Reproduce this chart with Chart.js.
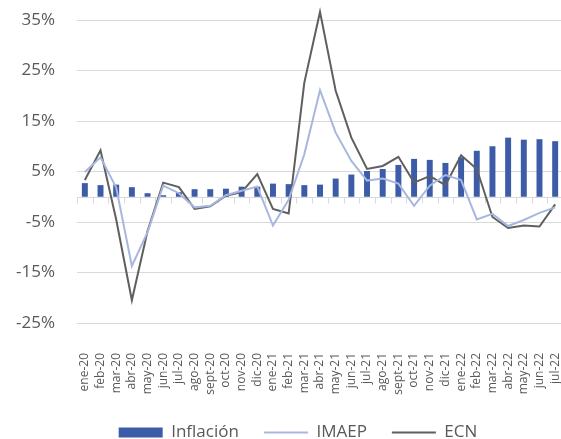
<!DOCTYPE html>
<html>
<head>
<meta charset="utf-8">
<script src="https://cdn.jsdelivr.net/npm/chart.js@4.4.1/dist/chart.umd.min.js"></script>
<style>
  html, body { margin: 0; padding: 0; background: #fff; overflow: hidden; }
  #wrap { width: 596px; height: 451px; }
</style>
</head>
<body>
<div id="wrap"><canvas id="grafico" width="596" height="451"></canvas></div>
<script>
var meses = ["ene-20", "feb-20", "mar-20", "abr-20", "may-20", "jun-20", "jul-20", "ago-20", "sept-20", "oct-20", "nov-20", "dic-20",
  "ene-21", "feb-21", "mar-21", "abr-21", "may-21", "jun-21", "jul-21", "ago-21", "sept-21", "oct-21", "nov-21", "dic-21",
  "ene-22", "feb-22", "mar-22", "abr-22", "may-22", "jun-22", "jul-22"];

var inflacion = [2.7, 2.3, 2.4, 1.9, 0.7, 0.3, 0.9, 1.5, 1.5, 1.6, 2.0, 2.0,
  2.6, 2.5, 2.3, 2.4, 3.6, 4.4, 5.1, 5.5, 6.3, 7.5, 7.3, 6.7,
  7.8, 9.1, 10.0, 11.7, 11.3, 11.4, 11.0];

var imaep = [4.9, 7.8, 1.8, -13.7, -7.0, 2.2, 0.7, -2.1, -1.8, 0.3, 1.2, 2.0,
  -5.7, -0.6, 8.4, 21.1, 12.7, 7.1, 3.2, 3.6, 2.6, -1.8, 2.2, 4.3,
  3.3, -4.5, -3.4, -5.8, -4.6, -3.2, -2.1];

var ecn = [3.3, 9.2, -4.5, -20.5, -6.8, 2.8, 1.9, -2.4, -1.9, 0.2, 0.9, 4.5,
  -2.4, -3.3, 22.6, 36.6, 21.0, 11.7, 5.5, 6.1, 7.9, 2.8, 4.1, 2.3,
  8.2, 5.5, -4.0, -6.2, -5.7, -5.9, -1.5];

var ticksY = [-25, -15, -5, 5, 15, 25, 35];

var colorTexto = "#595959";
var colorRejilla = "#d9d9d9";

// eje en cero con sus marcas entre categorias
var ejeCero = {
  id: "ejeCero",
  beforeDatasetsDraw: function (chart) {
    var ctx = chart.ctx;
    var x = chart.scales.x;
    var y0 = Math.round(chart.scales.y.getPixelForValue(0)) + 0.5;
    var paso = x.getPixelForValue(1) - x.getPixelForValue(0);
    ctx.save();
    ctx.strokeStyle = colorRejilla;
    ctx.lineWidth = 1;
    ctx.beginPath();
    ctx.moveTo(chart.chartArea.left, y0);
    ctx.lineTo(chart.chartArea.right, y0);
    for (var i = 0; i <= meses.length; i++) {
      var px = Math.round(x.getPixelForValue(0) - paso / 2 + i * paso) + 0.5;
      ctx.moveTo(px, y0);
      ctx.lineTo(px, y0 + 6);
    }
    ctx.stroke();
    ctx.restore();
  }
};

var ctx = document.getElementById("grafico").getContext("2d");
new Chart(ctx, {
  data: {
    labels: meses,
    datasets: [
      {
        type: "bar",
        label: "Inflación",
        data: inflacion,
        backgroundColor: "#3d5ca8",
        borderWidth: 0,
        barPercentage: 0.38,
        categoryPercentage: 1,
        pointStyle: "rect",
        order: 1
      },
      {
        type: "line",
        label: "IMAEP",
        data: imaep,
        borderColor: "#a7b7e0",
        backgroundColor: "#a7b7e0",
        borderWidth: 2,
        pointRadius: 0,
        tension: 0,
        clip: false,
        pointStyle: "line",
        order: 0
      },
      {
        type: "line",
        label: "ECN",
        data: ecn,
        borderColor: "#5f5f5f",
        backgroundColor: "#5f5f5f",
        borderWidth: 2,
        pointRadius: 0,
        tension: 0,
        clip: false,
        pointStyle: "line",
        order: 0
      }
    ]
  },
  options: {
    responsive: false,
    animation: false,
    devicePixelRatio: 1,
    layout: { padding: { left: 9, right: 9, top: 20, bottom: 0 } },
    plugins: {
      legend: {
        position: "bottom",
        labels: {
          usePointStyle: true,
          pointStyleWidth: 44,
          boxHeight: 10,
          padding: 25,
          color: colorTexto,
          font: { family: "Open Sans", size: 17 },
          sort: function (a, b) { return a.datasetIndex - b.datasetIndex; }
        }
      },
      tooltip: { enabled: false }
    },
    scales: {
      x: {
        grid: { display: false, drawTicks: false },
        border: { display: false },
        afterFit: function (axis) {
          axis.height = 76;
          axis.paddingLeft = 0;
          axis.paddingRight = 33;
        },
        ticks: {
          color: colorTexto,
          font: { family: "Open Sans", size: 12 },
          minRotation: 90,
          maxRotation: 90,
          autoSkip: false,
          padding: 30
        }
      },
      y: {
        min: -25,
        max: 35,
        afterBuildTicks: function (axis) {
          axis.ticks = ticksY.map(function (v) { return { value: v }; });
        },
        afterFit: function (axis) {
          axis.width = 68;
          axis.paddingTop = 0;
          axis.paddingBottom = 0;
        },
        grid: { color: colorRejilla, drawTicks: false },
        border: { display: false },
        ticks: {
          color: colorTexto,
          font: { family: "Open Sans", size: 17 },
          padding: 22,
          callback: function (v) { return v + "%"; }
        }
      }
    }
  },
  plugins: [ejeCero]
});
</script>
</body>
</html>
